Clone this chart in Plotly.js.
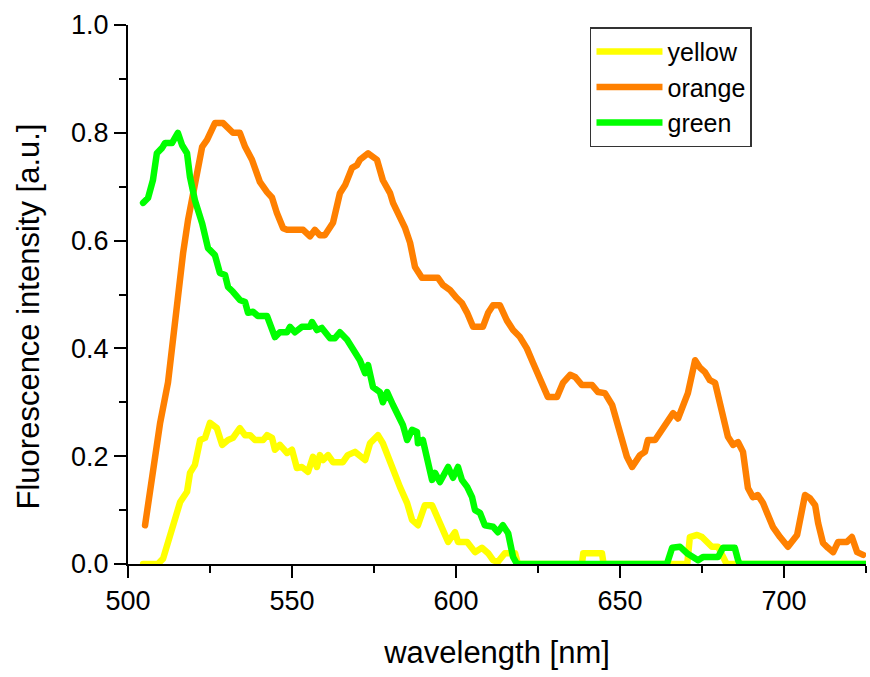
<!DOCTYPE html>
<html>
<head>
<meta charset="utf-8">
<script src="https://cdn.plot.ly/plotly-3.0.1.min.js"></script>
<style>
html,body{margin:0;padding:0;background:#fff;}
#chart{width:870px;height:677px;}
.scatterlayer path.js-line{stroke-linejoin:round;stroke-linecap:round;}
</style>
</head>
<body>
<div id="chart"></div>
<script>
// ---- data ----
const yellowX = [504.6,509.1,510.7,512.2,513.7,515.9,518,518.9,520.4,522,523.5,525,527.1,528.7,530.5,532,534.1,535.7,537.2,538.7,541.2,542.4,543.9,544.8,546.3,548.5,550,551.5,553,554.9,556.4,557.6,558.5,559.5,561,562.5,565.5,567,569.2,570.7,572.3,573.8,576.2,577.7,579.3,580.8,582.9,585.1,586.6,588.4,590.5,592.7,595.1,597.6,599.7,600.6,603.4,605.8,607.9,609.8,611.3,612.8,614.9,618,618.9,638.4,638.8,644.5,645,670.5,671.3,673.5,675,676.5,678,679.9,681,682.5,725];
const yellowY = [0,0,0.01,0.039,0.078,0.115,0.134,0.169,0.184,0.23,0.234,0.262,0.252,0.221,0.23,0.234,0.252,0.239,0.239,0.23,0.23,0.239,0.234,0.212,0.221,0.206,0.212,0.178,0.18,0.171,0.199,0.18,0.202,0.193,0.202,0.189,0.189,0.202,0.208,0.199,0.193,0.224,0.239,0.224,0.199,0.169,0.143,0.113,0.082,0.072,0.109,0.109,0.076,0.041,0.059,0.041,0.041,0.022,0.03,0.02,0.007,0.004,0.02,0.02,0,0,0.02,0.02,0,0,0.05,0.054,0.05,0.039,0.032,0.032,0.02,0,0];

const orangeX = [505.2,507.6,509.8,512.2,514.3,516.8,518.3,520.4,522.6,524.1,525.6,526.5,529,530.2,532,534.1,535.7,537.8,539.3,540.2,542.4,543.9,545.4,547.3,548.5,553.4,555.5,557,558.5,560,562.5,564.6,566.2,568.3,569.8,570.7,573.2,575.9,577.7,579.9,580.8,582.9,584.5,586,587.5,589.6,594.5,596,598.2,600.3,601.8,603.4,605.2,608.2,609.8,611.3,613.4,615.5,617.4,619.5,621.6,623.5,626.2,628,630.8,632.6,634.8,636.3,638.4,641.5,643.3,645.4,647.6,649.4,652.1,653.7,656.1,657.6,658.5,660.7,662.8,664.6,666.2,667.7,669.2,670.7,672.9,674.4,675.9,677.4,679,680.5,681.4,682.9,684.5,686,687.5,689,690.5,692,693.6,695.1,696.6,698.8,701.2,704,705.5,706.4,707.9,709.5,710.4,711.9,713.4,715,716.5,719.2,720.7,722.3,724.1];
const orangeY = [0.072,0.171,0.262,0.337,0.45,0.577,0.638,0.7,0.774,0.787,0.81,0.818,0.818,0.809,0.8,0.8,0.774,0.75,0.725,0.709,0.69,0.68,0.651,0.623,0.62,0.62,0.608,0.62,0.61,0.61,0.633,0.688,0.703,0.735,0.74,0.75,0.762,0.75,0.712,0.688,0.67,0.644,0.623,0.596,0.551,0.531,0.531,0.518,0.508,0.493,0.484,0.466,0.44,0.44,0.466,0.48,0.48,0.452,0.434,0.421,0.4,0.373,0.336,0.31,0.31,0.336,0.351,0.347,0.332,0.332,0.319,0.317,0.295,0.254,0.199,0.18,0.202,0.208,0.23,0.23,0.249,0.27,0.28,0.27,0.291,0.317,0.378,0.364,0.356,0.341,0.336,0.299,0.273,0.236,0.221,0.226,0.208,0.141,0.124,0.128,0.113,0.087,0.069,0.05,0.032,0.054,0.095,0.128,0.122,0.109,0.076,0.039,0.03,0.022,0.041,0.041,0.05,0.022,0.017];

const greenX = [504.6,506.1,507.6,508.8,510.4,511.3,513.4,515.2,516.5,518,518.9,520.4,522.6,524.4,526.5,528,529.6,530.5,532,534.1,535.7,536.6,538.1,539.6,542.4,543.9,544.8,546.3,548.5,549.4,550.9,553,555.5,556.1,557.6,559.1,561.6,563.1,564.6,566.8,568.3,570.7,572.3,573.2,574.7,576.8,577.7,579,580.8,582.3,583.8,585.1,586.6,588.1,588.4,589.9,591.5,592.7,593.6,595.1,597.6,599.1,600.6,601.8,603.4,604.9,605.8,607.3,608.8,611.3,612.8,614.3,615.9,617.4,618.6,664.3,665.9,668.3,670.4,672.3,673.8,675.3,679.9,681.4,685,686,686.5,725];
const greenY = [0.67,0.679,0.712,0.762,0.772,0.781,0.781,0.8,0.777,0.762,0.718,0.675,0.632,0.586,0.573,0.54,0.536,0.514,0.505,0.49,0.486,0.466,0.468,0.46,0.46,0.438,0.421,0.43,0.43,0.44,0.43,0.44,0.44,0.449,0.434,0.438,0.419,0.419,0.43,0.416,0.4,0.378,0.354,0.369,0.328,0.319,0.3,0.319,0.295,0.273,0.258,0.23,0.249,0.245,0.224,0.23,0.184,0.156,0.169,0.152,0.18,0.16,0.18,0.156,0.143,0.124,0.1,0.095,0.072,0.069,0.059,0.072,0.057,0.013,0,0,0.03,0.032,0.02,0.013,0.007,0.013,0.013,0.03,0.03,0.007,0,0];

const seriesNames = ['yellow','orange','green'];
const seriesColors = ['#ffff00','#ff8000','#00ff00'];
const xTitle = 'wavelength [nm]';
const yTitle = 'Fluorescence intensity [a.u.]';

const xs = [yellowX, orangeX, greenX];
const ys = [yellowY, orangeY, greenY];

const FONT = 'Liberation Sans, Arial, Helvetica, sans-serif';

const traces = seriesNames.map((n,i)=>({
  x: xs[i], y: ys[i], name: n, type:'scatter', mode:'lines',
  line:{color: seriesColors[i], width:6.5}
}));

const layout = {
  width:870, height:677,
  margin:{l:128, r:4, t:25, b:113},
  paper_bgcolor:'#fff', plot_bgcolor:'#fff',
  font:{family:FONT, color:'#000', size:27},
  showlegend:true,
  legend:{
    x:0.626, y:0.996, xanchor:'left', yanchor:'top',
    bgcolor:'#fff', bordercolor:'#333', borderwidth:1.5,
    font:{family:FONT, size:25, color:'#000'},
    itemwidth:66, tracegroupgap:0
  },
  xaxis:{
    range:[500,725], showgrid:false, zeroline:false,
    showline:true, linecolor:'#000', linewidth:2, mirror:false,
    ticks:'outside', ticklen:12, tickwidth:2, tickcolor:'#000',
    dtick:50, tick0:500,
    minor:{ticks:'outside', ticklen:7, tickwidth:2, tickcolor:'#000', dtick:25, tick0:500},
    tickfont:{family:FONT, size:27},
    title:{text:xTitle, font:{family:FONT, size:31}, standoff:26}
  },
  yaxis:{
    range:[0,1], showgrid:false, zeroline:false,
    showline:true, linecolor:'#000', linewidth:2, mirror:false,
    ticks:'outside', ticklen:12, tickwidth:2, tickcolor:'#000',
    dtick:0.2, tick0:0, tickformat:'.1f',
    minor:{ticks:'outside', ticklen:7, tickwidth:2, tickcolor:'#000', dtick:0.1, tick0:0},
    tickfont:{family:FONT, size:27},
    title:{text:yTitle, font:{family:FONT, size:31}, standoff:22}
  }
};

Plotly.newPlot('chart', traces, layout, {displayModeBar:false, staticPlot:true}).then(()=>{
  // let lines lying on the baseline show at full width, as in the reference
  document.querySelectorAll('.cartesianlayer .plot').forEach(g=>g.removeAttribute('clip-path'));
  // the reference's y title sits a little below the axis middle
  const yt = document.querySelector('.ytitle');
  if (yt) yt.setAttribute('transform', 'translate(0,22) ' + (yt.getAttribute('transform') || ''));
});
</script>
</body>
</html>
